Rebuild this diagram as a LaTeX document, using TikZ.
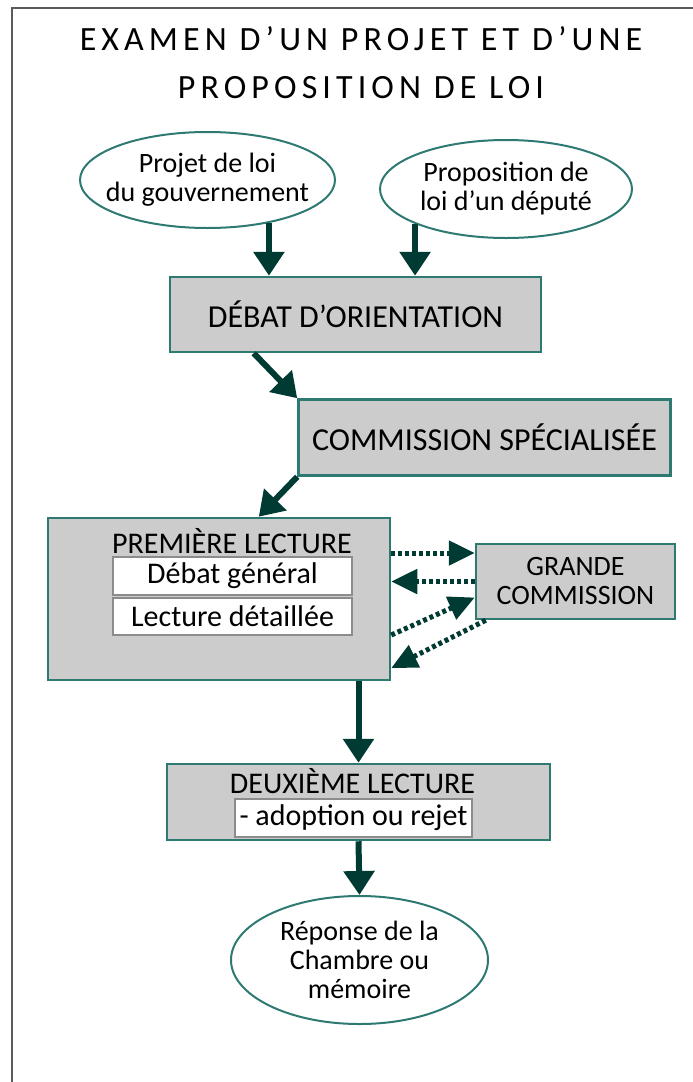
\documentclass[tikz,border=0pt]{standalone}
\usepackage{fontspec}
\setmainfont{Carlito}
\newfontfamily\titlefont{Carlito}[LetterSpace=15]
\usetikzlibrary{arrows.meta,shapes.geometric}
\definecolor{frame-gray}{HTML}{5A5A5A}
\definecolor{edge-teal}{HTML}{2E7A72}
\definecolor{arrow-green}{HTML}{003B33}
\definecolor{box-gray}{HTML}{CCCCCC}
\definecolor{inner-line}{HTML}{8C8C8C}

\begin{document}
\begin{tikzpicture}[x=1pt, y=-1pt,
    every node/.style={font=\fontsize{30}{27}\selectfont, inner sep=0pt},
    twoline/.style={font=\fontsize{28}{29}\selectfont},
    oval/.style={ellipse, draw=edge-teal, line width=2pt, fill=white,
      align=center, inner xsep=-40pt, twoline},
    stage/.style={draw=edge-teal, line width=2.5pt, fill=box-gray, align=center},
    sub/.style={draw=inner-line, line width=1.5pt, fill=white},
    flow/.style={-{Triangle[width=30pt,length=24pt]}, line width=6pt,
      color=arrow-green},
    link/.style={-{Triangle[width=24pt,length=26pt]}, line width=5pt,
      color=arrow-green, dash pattern=on 4pt off 3pt}]
    \useasboundingbox (0,0) rectangle (693,1082);
    \draw[frame-gray, line width=2.5pt] (693,8) -- (12,8) -- (12,1082);
    \node[font=\titlefont\fontsize{34}{48}\selectfont, align=center] (title)
      at (361,63) {EXAMEN D’UN PROJET ET D’UNE\\PROPOSITION DE LOI};
    % sources
    \node[oval, minimum width=255pt, minimum height=96pt] (gov)
      at (207.5,180) {Projet de loi\\du gouvernement};
    \node[oval, minimum width=252pt, minimum height=98pt] (dep)
      at (506,189) {Proposition de\\loi d’un député};
    % stages
    \node[stage, minimum width=371pt, minimum height=75pt,
      font=\fontsize{32}{32}\selectfont] (deb)
      at (355.5,314.5) {DÉBAT D’ORIENTATION};
    \node[stage, minimum width=372pt, minimum height=76pt,
      font=\fontsize{32}{32}\selectfont] (com)
      at (484.5,437.5) {COMMISSION SPÉCIALISÉE};
    \node[stage, minimum width=342pt, minimum height=162pt] (prem)
      at (219,599) {};
    \node[anchor=base] (premt) at (232,553) {PREMIÈRE LECTURE};
    \node[sub, minimum width=239pt, minimum height=38pt] (gen)
      at (232.5,576) {Débat général};
    \node[sub, minimum width=239pt, minimum height=37pt] (det)
      at (232.5,616.5) {Lecture détaillée};
    \node[stage, twoline, minimum width=199pt, minimum height=75pt] (gc)
      at (575.5,581.5) {GRANDE\\COMMISSION};
    \node[stage, minimum width=383pt, minimum height=76pt] (deux)
      at (358.5,802) {};
    \node[anchor=base] (deuxt) at (352.5,793) {DEUXIÈME LECTURE};
    \node[sub, minimum width=237pt, minimum height=38pt] (adop)
      at (353.5,818) {- adoption ou rejet};
    \node[oval, minimum width=257pt, minimum height=128pt] (rep)
      at (359.5,960) {Réponse de la\\Chambre ou\\mémoire};
    % arrows
    \draw[flow] (gov.-35) -- (gov.-35 |- deb.north);
    \draw[flow] (dep.-159) -- (dep.-159 |- deb.north);
    \draw[flow] ([xshift=85pt]deb.south west) -- (com.north west);
    \draw[flow] (com.south west) -- ([xshift=212pt]prem.north west);
    \draw[link] ([yshift=46pt]prem.east) -- ([yshift=46pt]prem.east -| gc.west);
    \draw[link] (gc.west) -- (gc.west -| prem.east);
    \draw[link] ([yshift=-36pt]prem.east) -- ([yshift=-16pt]gc.west);
    \draw[link] ([xshift=11pt]gc.south west) -- ([yshift=-69pt]prem.east);
    \draw[flow] (deux.north |- prem.south) -- (deux.north);
    \draw[flow] (deux.south) -- (rep.north);
\end{tikzpicture}
\end{document}
